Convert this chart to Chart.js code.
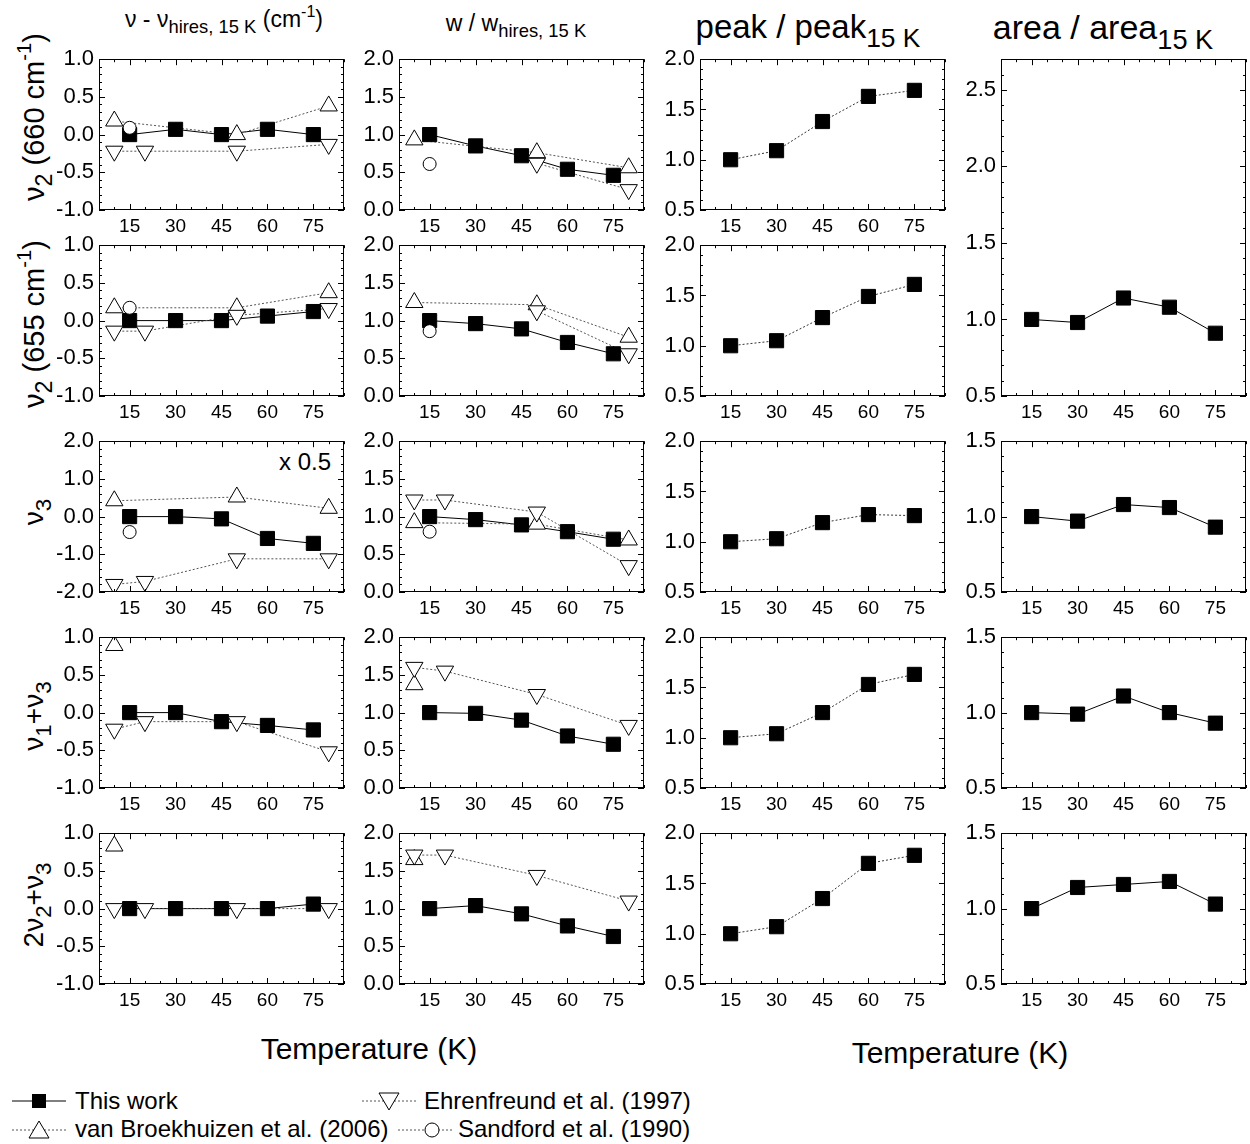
<!DOCTYPE html>
<html>
<head>
<meta charset="utf-8">
<script src="https://cdn.jsdelivr.net/npm/chart.js@4.4.1/dist/chart.umd.min.js"></script>
<style>
body { margin: 0; background: #fff; width: 1250px; height: 1144px; position: relative; overflow: hidden;
       font-family: "Liberation Sans", Arial, sans-serif; color: #000; }
canvas { position: absolute; }
.txt { position: absolute; white-space: nowrap; line-height: 1; }
.ctr { transform: translateX(-50%); }
.rot { transform: translate(-50%, -50%) rotate(-90deg); }
sub { font-size: 0.8em; vertical-align: -0.35em; line-height: 0; }
sup { font-size: 0.7em; vertical-align: 0.6em; line-height: 0; }
.leg { position: absolute; white-space: nowrap; font-size: 24px; line-height: 1; }
.leg svg { position: absolute; }
</style>
</head>
<body>

<div class="txt ctr" style="left:224px; top:8px; font-size:23px;">&nu; - &nu;<sub>hires, 15 K</sub> (cm<sup>-1</sup>)</div>
<div class="txt ctr" style="left:516px; top:12px; font-size:23px;">w / w<sub>hires, 15 K</sub></div>
<div class="txt ctr" style="left:808px; top:10px; font-size:33px;">peak / peak<sub>15 K</sub></div>
<div class="txt ctr" style="left:1103px; top:10px; font-size:34px;">area / area<sub>15 K</sub></div>

<div class="txt rot" style="left:34px; top:117px; font-size:29px;">&nu;<sub>2</sub> (660 cm<sup>-1</sup>)</div>
<div class="txt rot" style="left:34px; top:324px; font-size:29px;">&nu;<sub>2</sub> (655 cm<sup>-1</sup>)</div>
<div class="txt rot" style="left:34px; top:512px; font-size:28px;">&nu;<sub>3</sub></div>
<div class="txt rot" style="left:34px; top:716px; font-size:28px;">&nu;<sub>1</sub>+&nu;<sub>3</sub></div>
<div class="txt rot" style="left:34px; top:905px; font-size:28px;">2&nu;<sub>2</sub>+&nu;<sub>3</sub></div>

<div class="txt" style="left:279px; top:450px; font-size:24px;">x 0.5</div>

<div class="txt ctr" style="left:369px; top:1034px; font-size:30px;">Temperature (K)</div>
<div class="txt ctr" style="left:960px; top:1038px; font-size:30px;">Temperature (K)</div>

<div class="leg" style="left:0px; top:1089px;">
  <svg width="70" height="26" style="left:8px; top:-1px;"><line x1="4" y1="13" x2="58" y2="13" stroke="#000" stroke-width="1"/><rect x="24" y="6" width="14" height="14" fill="#000"/></svg>
  <span style="position:absolute; left:75px; top:0px;">This work</span>
</div>
<div class="leg" style="left:0px; top:1089px;">
  <svg width="70" height="26" style="left:358px; top:-1px;"><line x1="4" y1="13" x2="58" y2="13" stroke="#555" stroke-width="1" stroke-dasharray="2,2"/><polygon points="21,5 41,5 31,22" fill="#fff" stroke="#000" stroke-width="1"/></svg>
  <span style="position:absolute; left:424px; top:0px;">Ehrenfreund et al. (1997)</span>
</div>
<div class="leg" style="left:0px; top:1117px;">
  <svg width="70" height="26" style="left:8px; top:-1px;"><line x1="4" y1="14" x2="58" y2="14" stroke="#555" stroke-width="1" stroke-dasharray="2,2"/><polygon points="21,22 41,22 31,5" fill="#fff" stroke="#000" stroke-width="1"/></svg>
  <span style="position:absolute; left:75px; top:0px;">van Broekhuizen et al. (2006)</span>
</div>
<div class="leg" style="left:0px; top:1117px;">
  <svg width="70" height="26" style="left:394px; top:-1px;"><line x1="4" y1="14" x2="58" y2="14" stroke="#555" stroke-width="1" stroke-dasharray="2,2"/><circle cx="38" cy="14" r="7" fill="#fff" stroke="#000" stroke-width="1"/></svg>
  <span style="position:absolute; left:458px; top:0px;">Sandford et al. (1990)</span>
</div>

<script>
// temperatures (K) of each data set
var tempThis = [15, 30, 45, 60, 75];
var tempBroek = [10, 50, 80];
var tempEhren = [10, 20, 50, 80];
var tempSand = [15];
var xTickLabels = [15, 30, 45, 60, 75];

// column 1: nu - nu_hires,15K (cm-1)
var shift660This = [0.0, 0.07, 0.0, 0.07, 0.0];
var shift660Broek = [0.18, 0.0, 0.38];
var shift660Ehren = [-0.22, -0.22, -0.22, -0.13];
var shift660Sand = [0.09];

var shift655This = [0.0, 0.0, 0.0, 0.06, 0.12];
var shift655Broek = [0.17, 0.17, 0.37];
var shift655Ehren = [-0.14, -0.14, 0.07, 0.16];
var shift655Sand = [0.17];

var shiftNu3This = [0.0, 0.0, -0.06, -0.58, -0.71];
var shiftNu3Broek = [0.42, 0.52, 0.22];
var shiftNu3Ehren = [-1.8, -1.72, -1.12, -1.12];
var shiftNu3Sand = [-0.41];

var shiftNu13This = [0.0, 0.0, -0.12, -0.17, -0.23];
var shiftNu13Broek = [0.89, null, null];
var shiftNu13Ehren = [-0.22, -0.12, -0.12, -0.52];

var shift2Nu23This = [0.0, 0.0, 0.0, 0.0, 0.06];
var shift2Nu23Broek = [0.83, null, null];
var shift2Nu23Ehren = [0.0, 0.0, 0.0, 0.0];

// column 2: w / w_hires,15K
var width660This = [1.0, 0.85, 0.72, 0.54, 0.46];
var width660Broek = [0.93, 0.76, 0.56];
var width660Ehren = [null, null, 0.62, 0.27];
var width660Sand = [0.61];

var width655This = [1.0, 0.96, 0.89, 0.71, 0.56];
var width655Broek = [1.24, 1.21, 0.78];
var width655Ehren = [null, null, 1.13, 0.56];
var width655Sand = [0.86];

var widthNu3This = [1.0, 0.96, 0.89, 0.8, 0.7];
var widthNu3Broek = [0.92, 0.9, 0.69];
var widthNu3Ehren = [1.22, 1.22, 1.06, 0.35];
var widthNu3Sand = [0.8];

var widthNu13This = [1.0, 0.99, 0.9, 0.69, 0.58];
var widthNu13Broek = [1.37, null, null];
var widthNu13Ehren = [1.6, 1.55, 1.24, 0.83];

var width2Nu23This = [1.0, 1.04, 0.93, 0.77, 0.63];
var width2Nu23Broek = [1.65, null, null];
var width2Nu23Ehren = [1.71, 1.71, 1.44, 1.1];

// column 3: peak / peak_15K
var peak660 = [1.0, 1.09, 1.38, 1.63, 1.69];
var peak655 = [1.0, 1.05, 1.28, 1.49, 1.61];
var peakNu3 = [1.0, 1.03, 1.19, 1.27, 1.26];
var peakNu13 = [1.0, 1.04, 1.25, 1.53, 1.63];
var peak2Nu23 = [1.0, 1.07, 1.35, 1.70, 1.78];

// column 4: area / area_15K (nu2 bands share one panel)
var areaNu2 = [1.0, 0.98, 1.14, 1.08, 0.91];
var areaNu3 = [1.0, 0.97, 1.08, 1.06, 0.93];
var areaNu13 = [1.0, 0.99, 1.11, 1.0, 0.93];
var area2Nu23 = [1.0, 1.14, 1.16, 1.18, 1.03];

// y axis tick labels
var yTicksShift = [-1.0, -0.5, 0.0, 0.5, 1.0];
var yTicksShiftNu3 = [-2.0, -1.0, 0.0, 1.0, 2.0];
var yTicksWidth = [0.0, 0.5, 1.0, 1.5, 2.0];
var yTicksPeak = [0.5, 1.0, 1.5, 2.0];
var yTicksArea = [0.5, 1.0, 1.5];
var yTicksAreaTall = [0.5, 1.0, 1.5, 2.0, 2.5];

var colLeft = [99, 399, 700, 1001];
var rowTop = [57, 243, 439, 635, 831];
var plotW = 245;
var plotH = 153;

Chart.defaults.font.family = '"Liberation Sans", Arial, sans-serif';
Chart.defaults.color = '#000';

function series(kind, temps, vals){
    var pts = [];
    for(var i = 0; i < temps.length; i++){
        if(vals[i] !== null) pts.push({x: temps[i], y: vals[i]});
    }
    return {kind: kind, pts: pts};
}

var styles = {
    this:    {line: '#000', dash: [], style: 'rect', r: 10, fill: '#000', rot: 0},
    thisDot: {line: '#333', dash: [2, 2], style: 'rect', r: 10, fill: '#000', rot: 0},
    broek:   {line: '#555', dash: [2, 2], style: 'triangle', r: 10, fill: '#fff', rot: 0},
    ehren:   {line: '#555', dash: [2, 2], style: 'triangle', r: 10, fill: '#fff', rot: 180},
    sand:    {line: '#555', dash: [2, 2], style: 'circle', r: 6.5, fill: '#fff', rot: 0}
};

var boxTicks = {
    id: 'boxTicks',
    afterDraw: function(chart){
        var ctx = chart.ctx;
        var a = chart.chartArea;
        var xs = chart.scales.x, ys = chart.scales.y;
        var minor = chart.options.plugins.boxTicks.minor;
        var majors = chart.options.plugins.boxTicks.majors;
        ctx.save();
        ctx.strokeStyle = '#000';
        ctx.lineWidth = 1;
        ctx.strokeRect(Math.round(a.left) + 0.5, Math.round(a.top) + 0.5, Math.round(a.width) - 1, Math.round(a.height) - 1);
        ctx.beginPath();
        for(var t = 5; t <= 85; t += 5){
            var px = Math.round(xs.getPixelForValue(t)) + 0.5;
            var len = (t % 15 === 0) ? 6 : 3;
            ctx.moveTo(px, a.bottom); ctx.lineTo(px, a.bottom - len);
            ctx.moveTo(px, a.top); ctx.lineTo(px, a.top + len);
        }
        var n = Math.round((ys.max - ys.min) / minor);
        for(var k = 0; k <= n; k++){
            var v = ys.min + k * minor;
            var py = Math.round(ys.getPixelForValue(v)) + 0.5;
            var isMajor = majors.some(function(m){ return Math.abs(m - v) < 1e-6; });
            var l2 = isMajor ? 6 : 3;
            ctx.moveTo(a.left, py); ctx.lineTo(a.left + l2, py);
            ctx.moveTo(a.right, py); ctx.lineTo(a.right - l2, py);
        }
        ctx.stroke();
        ctx.restore();
    }
};

function makePanel(col, row, spanRows, yMin, yMax, yTicks, yMinor, list){
    var top = rowTop[row];
    var h = spanRows === 2 ? (rowTop[row + 1] + plotH - top) : plotH;
    var padL = 62, padT = 16, padR = 14, padB = 34;
    var canvas = document.createElement('canvas');
    canvas.width = padL + plotW + padR;
    canvas.height = padT + h + padB;
    canvas.style.left = (colLeft[col] - padL) + 'px';
    canvas.style.top = (top - padT) + 'px';
    document.body.appendChild(canvas);

    var lines = [], marks = [];
    list.forEach(function(s){
        var st = styles[s.kind];
        if(s.pts.length > 1){
            lines.push({data: s.pts, showLine: true, borderColor: st.line, borderWidth: 1, borderDash: st.dash,
                        pointRadius: 0, order: 2});
        }
        marks.push({data: s.pts, showLine: false, pointStyle: st.style, pointRadius: st.r, pointHoverRadius: st.r,
                    pointRotation: st.rot, pointBackgroundColor: st.fill, pointBorderColor: '#000',
                    pointBorderWidth: 1, order: 1});
    });

    new Chart(canvas.getContext('2d'), {
        type: 'scatter',
        data: {datasets: lines.concat(marks)},
        plugins: [boxTicks],
        options: {
            responsive: false,
            animation: false,
            events: [],
            layout: {padding: {left: 0, top: padT, right: padR, bottom: 0}},
            plugins: {legend: {display: false}, tooltip: {enabled: false}, boxTicks: {minor: yMinor, majors: yTicks}},
            scales: {
                x: {
                    type: 'linear', min: 5, max: 85,
                    grid: {display: false, drawTicks: false}, border: {display: false},
                    ticks: {padding: 5, font: {size: 19}, color: '#000', autoSkip: false, maxRotation: 0,
                            callback: function(v){ return v; }},
                    afterBuildTicks: function(s){ s.ticks = xTickLabels.map(function(v){ return {value: v}; }); },
                    afterFit: function(s){ s.height = padB; }
                },
                y: {
                    type: 'linear', min: yMin, max: yMax,
                    grid: {display: false, drawTicks: false}, border: {display: false},
                    ticks: {padding: 5, font: {size: 22}, color: '#000', autoSkip: false,
                            callback: function(v){ return v.toFixed(1); }},
                    afterBuildTicks: function(s){ s.ticks = yTicks.map(function(v){ return {value: v}; }); },
                    afterFit: function(s){ s.width = padL; }
                }
            }
        }
    });
}

// column 1
makePanel(0, 0, 1, -1, 1, yTicksShift, 0.1, [
    series('ehren', tempEhren, shift660Ehren), series('broek', tempBroek, shift660Broek),
    series('sand', tempSand, shift660Sand), series('this', tempThis, shift660This)]);
makePanel(0, 1, 1, -1, 1, yTicksShift, 0.1, [
    series('ehren', tempEhren, shift655Ehren), series('broek', tempBroek, shift655Broek),
    series('sand', tempSand, shift655Sand), series('this', tempThis, shift655This)]);
makePanel(0, 2, 1, -2, 2, yTicksShiftNu3, 0.2, [
    series('ehren', tempEhren, shiftNu3Ehren), series('broek', tempBroek, shiftNu3Broek),
    series('sand', tempSand, shiftNu3Sand), series('this', tempThis, shiftNu3This)]);
makePanel(0, 3, 1, -1, 1, yTicksShift, 0.1, [
    series('ehren', tempEhren, shiftNu13Ehren), series('broek', tempBroek, shiftNu13Broek),
    series('this', tempThis, shiftNu13This)]);
makePanel(0, 4, 1, -1, 1, yTicksShift, 0.1, [
    series('ehren', tempEhren, shift2Nu23Ehren), series('broek', tempBroek, shift2Nu23Broek),
    series('this', tempThis, shift2Nu23This)]);

// column 2
makePanel(1, 0, 1, 0, 2, yTicksWidth, 0.1, [
    series('ehren', tempEhren, width660Ehren), series('broek', tempBroek, width660Broek),
    series('sand', tempSand, width660Sand), series('this', tempThis, width660This)]);
makePanel(1, 1, 1, 0, 2, yTicksWidth, 0.1, [
    series('ehren', tempEhren, width655Ehren), series('broek', tempBroek, width655Broek),
    series('sand', tempSand, width655Sand), series('this', tempThis, width655This)]);
makePanel(1, 2, 1, 0, 2, yTicksWidth, 0.1, [
    series('ehren', tempEhren, widthNu3Ehren), series('broek', tempBroek, widthNu3Broek),
    series('sand', tempSand, widthNu3Sand), series('this', tempThis, widthNu3This)]);
makePanel(1, 3, 1, 0, 2, yTicksWidth, 0.1, [
    series('ehren', tempEhren, widthNu13Ehren), series('broek', tempBroek, widthNu13Broek),
    series('this', tempThis, widthNu13This)]);
makePanel(1, 4, 1, 0, 2, yTicksWidth, 0.1, [
    series('ehren', tempEhren, width2Nu23Ehren), series('broek', tempBroek, width2Nu23Broek),
    series('this', tempThis, width2Nu23This)]);

// column 3
makePanel(2, 0, 1, 0.5, 2, yTicksPeak, 0.1, [series('thisDot', tempThis, peak660)]);
makePanel(2, 1, 1, 0.5, 2, yTicksPeak, 0.1, [series('thisDot', tempThis, peak655)]);
makePanel(2, 2, 1, 0.5, 2, yTicksPeak, 0.1, [series('thisDot', tempThis, peakNu3)]);
makePanel(2, 3, 1, 0.5, 2, yTicksPeak, 0.1, [series('thisDot', tempThis, peakNu13)]);
makePanel(2, 4, 1, 0.5, 2, yTicksPeak, 0.1, [series('thisDot', tempThis, peak2Nu23)]);

// column 4
makePanel(3, 0, 2, 0.5, 2.7, yTicksAreaTall, 0.1, [series('this', tempThis, areaNu2)]);
makePanel(3, 2, 1, 0.5, 1.5, yTicksArea, 0.1, [series('this', tempThis, areaNu3)]);
makePanel(3, 3, 1, 0.5, 1.5, yTicksArea, 0.1, [series('this', tempThis, areaNu13)]);
makePanel(3, 4, 1, 0.5, 1.5, yTicksArea, 0.1, [series('this', tempThis, area2Nu23)]);
</script>
</body>
</html>
